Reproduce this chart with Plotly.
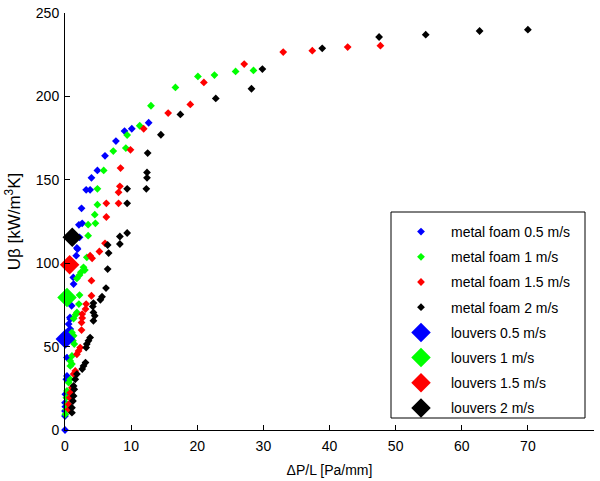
import plotly.graph_objects as go

# metal foam 0.5 m/s
mf05_x = [0, 0, 0, 0.05, 0, 0.05, 0.2, 0.3, 0.3, 0.55, 0.8, 0.55, 0.75, 0.8, 1.0, 1.3, 1.25, 1.7, 1.9, 1.8, 2.2,
          2.1, 2.6, 2.5, 3.2, 3.8, 4.0, 4.9, 6.05, 7.7, 9.0, 10.1, 12.65]
mf05_y = [0, 8.4, 11.4, 14, 16.4, 21.4, 30.4, 32.4, 43.4, 59.5, 60.5, 63.5, 67.5, 66.5, 74.5, 87.5, 91.5, 104.5, 108.5, 109.1, 115.5,
          123, 123.9, 132.9, 144, 144, 151.2, 155.6, 164.4, 173.2, 179.2, 180.6, 184.2]

# metal foam 1 m/s
mf1_x = [0.05, 0.2, 0.3, 0.2, 0.3, 0.55, 0.8, 0.8, 1.05, 0.8, 1.05, 1.4, 1.2, 1.3, 1.05, 1.3, 1.6, 1.8, 2.1, 2.2,
         1.8, 2.2, 2.4, 3.0, 2.8, 3.3, 3.5, 3.5, 4.6, 4.5, 4.9, 4.9, 5.85, 7.3, 9.2, 9.4, 11.3, 13.0, 16.7,
         20.1, 22.6, 25.8, 28.5]
mf1_y = [9.4, 12.4, 15.4, 19.4, 23.4, 28.4, 30.4, 38.4, 39.5, 41.4, 44.4, 51.5, 53.5, 56.5, 58.5, 66.8, 69.1, 70.5, 75.5, 80.9,
         90.9, 92.9, 94.5, 95.9, 97.5, 103.5, 116.5, 123.1, 123.9, 129.1, 135.1, 144.6, 155.6, 167.2, 169, 176.8, 182.4, 194.4, 205.4,
         212, 212.8, 215, 215.6]

# metal foam 1.5 m/s
mf15_x = [0.55, 0.55, 0.7, 0.8, 1.05, 1.3, 1.55, 1.8, 2.05, 2.3, 2.5, 2.5, 2.6, 2.6, 3.1, 3.2, 4.0, 4.0, 3.8, 4.1,
          5.2, 6.05, 6.25, 6.25, 8.1, 8.1, 8.3, 8.4, 9.9, 11.9, 15.6, 18.95, 21.0, 27.1, 33.0, 37.4, 42.75, 47.7]
mf15_y = [12.4, 15.4, 19.4, 22.4, 25.4, 33.5, 35.4, 45.4, 47.4, 49.4, 59.9, 64.4, 67.1, 69.5, 72.5, 75.5, 80.5, 89.5, 104.5, 102.9,
          107, 111.9, 127.7, 135.9, 135.9, 142.5, 146.1, 157, 168, 180.6, 190, 195.2, 208.4, 219.4, 226.6, 227.4, 229.6, 230.4]

# metal foam 2 m/s
mf2_x = [1.05, 1.05, 1.2, 1.3, 1.4, 1.3, 1.55, 1.8, 2.6, 2.8, 3.1, 3.2, 3.3, 3.55, 3.8, 4.3, 4.5, 4.3, 4.2, 4.3,
         5.35, 5.6, 6.2, 6.45, 6.6, 6.45, 8.3, 8.3, 9.4, 9.4, 9.4, 12.3, 12.4, 12.4, 12.5, 14.5, 17.45, 22.8,
         28.2, 29.85, 38.9, 47.5, 54.55, 62.7, 70.0]
mf2_y = [10.4, 13.4, 17.4, 20.4, 24.4, 26.4, 30.4, 33.5, 36.5, 38.4, 40.4, 49.4, 51.5, 53.5, 55.4, 65.5, 68.5, 70.5, 74.1, 76.1,
         78.1, 79.9, 85.1, 96.5, 106.1, 110.9, 111.5, 116, 118.1, 135.9, 144.6, 144.6, 151.2, 154.4, 166, 177, 189.2, 198.8,
         204.6, 216.4, 228.8, 235.6, 237, 239.2, 240]

# louvers
louver_labels = ["louvers 0.5 m/s", "louvers 1 m/s", "louvers 1.5 m/s", "louvers 2 m/s"]
louver_x = [0.05, 0.3, 0.7, 1.1]
louver_y = [54.5, 79.5, 99, 115.5]

foam_labels = ["metal foam 0.5 m/s", "metal foam 1 m/s", "metal foam 1.5 m/s", "metal foam 2 m/s"]
colors = ["#0000FF", "#00FF00", "#FF0000", "#000000"]

x_ticks = [0, 10, 20, 30, 40, 50, 60, 70, 80]
y_ticks = [0, 50, 100, 150, 200, 250]

FONT = "Liberation Sans, Arial, sans-serif"

fig = go.Figure()
foam_x = [mf05_x, mf1_x, mf15_x, mf2_x]
foam_y = [mf05_y, mf1_y, mf15_y, mf2_y]
for i in range(4):
    fig.add_trace(go.Scatter(
        x=foam_x[i], y=foam_y[i], mode="markers", name=foam_labels[i],
        legendgroup="f%d" % i,
        marker=dict(symbol="diamond", size=6, color=colors[i], line=dict(width=0)),
        cliponaxis=False,
    ))
for i in range(4):
    fig.add_trace(go.Scatter(
        x=[louver_x[i]], y=[louver_y[i]], mode="markers", name=louver_labels[i],
        legendgroup="l%d" % i,
        marker=dict(symbol="diamond", size=15, color=colors[i], line=dict(width=0)),
        cliponaxis=False,
    ))

# plot area in pixels: x 65..594, y 13..430
L, R, T, B = 65, 6, 13, 51
W, H = 600, 481
pw, ph = W - L - R, H - T - B

def px_to_paper_x(p):
    return (p - L) / pw

def px_to_paper_y(p):
    return (H - B - p) / ph

fig.add_shape(type="rect", xref="paper", yref="paper",
              x0=px_to_paper_x(391), x1=px_to_paper_x(585),
              y0=px_to_paper_y(418), y1=px_to_paper_y(212),
              line=dict(color="black", width=1), fillcolor="white", layer="below")

fig.update_layout(
    width=W, height=H,
    margin=dict(l=L, r=R, t=T, b=B, autoexpand=False),
    plot_bgcolor="white", paper_bgcolor="white",
    font=dict(family=FONT, size=14, color="black"),
    showlegend=True,
    legend=dict(
        x=px_to_paper_x(391), y=px_to_paper_y(216), xanchor="left", yanchor="top",
        bgcolor="rgba(0,0,0,0)", borderwidth=0,
        font=dict(family=FONT, size=14, color="black"),
        tracegroupgap=4, itemsizing="trace", itemwidth=50,
    ),
    xaxis=dict(
        range=[0, 80], tickvals=x_ticks, ticktext=[str(v) for v in x_ticks],
        showgrid=False, zeroline=False, showline=True, linecolor="black", linewidth=1,
        ticks="inside", ticklen=5, tickcolor="black", mirror=False,
        ticklabelstandoff=3,
        title=dict(text="\u0394P/L [Pa/mm]", standoff=12, font=dict(size=14)),
        tickfont=dict(size=14), automargin=False,
    ),
    yaxis=dict(
        range=[0, 250], tickvals=y_ticks, ticktext=[str(v) for v in y_ticks],
        showgrid=False, zeroline=False, showline=True, linecolor="black", linewidth=1,
        ticks="inside", ticklen=5, tickcolor="black", mirror=False,
        ticklabelstandoff=2,
        title=dict(text="U\u03b2 [kW/m<sup>3</sup>K]", standoff=10, font=dict(size=17)),
        tickfont=dict(size=14), automargin=False,
    ),
)

fig.write_html("out.html", config={"displayModeBar": False},
               post_script="document.body.style.margin='0px';")
